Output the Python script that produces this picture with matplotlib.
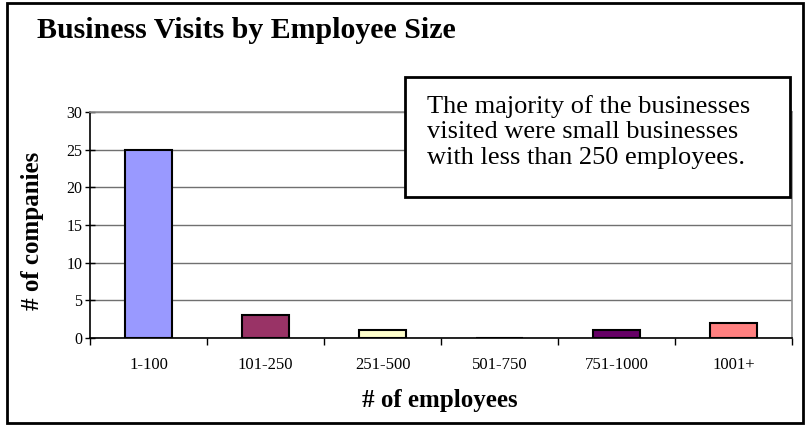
import matplotlib
matplotlib.use("Agg")
import matplotlib.pyplot as plt
from matplotlib.patches import Rectangle

categories = ["1-100", "101-250", "251-500", "501-750", "751-1000", "1001+"]
companies = [25, 3, 1, 0, 1, 2]
bar_colors = ["#9999FF", "#993366", "#FFFFCC", "#CCFFFF", "#660066", "#FF8080"]
y_ticks = [0, 5, 10, 15, 20, 25, 30]

title = "Business Visits by Employee Size"
note = ("The majority of the businesses\n"
        "visited were small businesses\n"
        "with less than 250 employees.")

W, H = 808, 426
fig = plt.figure(figsize=(W / 100, H / 100), dpi=100)
serif = ["Liberation Serif", "DejaVu Serif"]

# outer frame of the chart
fig.patches.append(Rectangle((7 / W, 3 / H), 796 / W, 420 / H, transform=fig.transFigure,
                             fill=False, edgecolor="black", linewidth=2))

ax = fig.add_axes([90 / W, (H - 338) / H, (792 - 90) / W, (338 - 112) / H])
x = list(range(len(categories)))
ax.bar(x, companies, width=0.4, color=bar_colors, edgecolor="black", linewidth=1.5, zorder=3)
ax.set_xlim(-0.5, len(categories) - 0.5)
ax.set_ylim(0, 30)
ax.set_yticks(y_ticks)
ax.set_yticklabels([str(v) for v in y_ticks], fontfamily=serif, fontsize=11.5)
ax.yaxis.grid(True, color="#707070", linewidth=1, zorder=0)

ax.set_xticks([i - 0.5 for i in range(len(categories) + 1)])
ax.set_xticklabels([])
ax.set_xticks(x, minor=True)
ax.set_xticklabels(categories, minor=True, fontfamily=serif, fontsize=12)
ax.tick_params(axis="x", which="minor", length=0, pad=14)
ax.tick_params(axis="x", which="major", length=5, width=1, direction="out")
ax.tick_params(axis="y", length=7, width=1, direction="inout", pad=2)

for s in ["left", "bottom"]:
    ax.spines[s].set_color("black")
    ax.spines[s].set_linewidth(1.2)
for s in ["top", "right"]:
    ax.spines[s].set_color("#909090")
    ax.spines[s].set_linewidth(1.2)

fig.text(33 / W, 1 - 231 / H, "# of companies", fontfamily=serif, fontsize=18,
         fontweight="bold", ha="center", va="center", rotation=90)
fig.text(440 / W, 1 - 401 / H, "# of employees", fontfamily=serif, fontsize=18,
         fontweight="bold", ha="center", va="center")

fig.text(37 / W, 1 - 31 / H, title, fontfamily=serif, fontsize=21.5, fontweight="bold",
         ha="left", va="center")

# annotation box
fig.patches.append(Rectangle((405 / W, 1 - 197 / H), (790 - 405) / W, (197 - 77) / H,
                             transform=fig.transFigure, facecolor="white",
                             edgecolor="black", linewidth=2, zorder=5))
fig.text(427 / W, 1 - 132 / H, note, fontfamily=serif, fontsize=19, ha="left",
         va="center", linespacing=1.22, zorder=6)

fig.savefig("out.png", dpi=100)
